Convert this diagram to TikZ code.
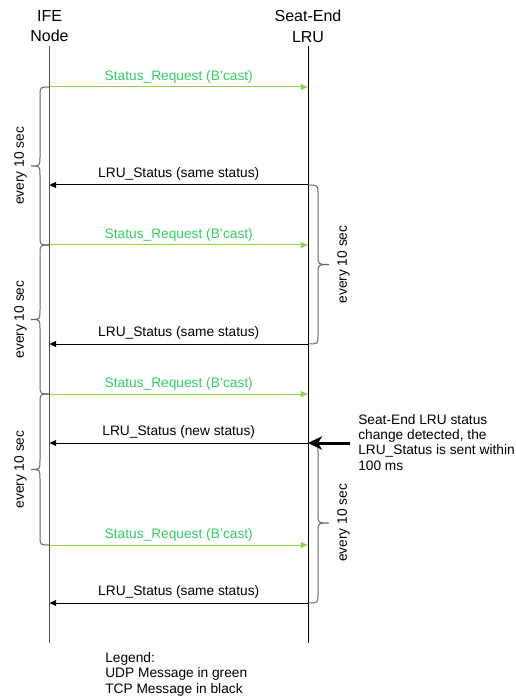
\documentclass[tikz,border=0pt]{standalone}
\usepackage{fontspec}
\setmainfont{Liberation Sans}
\usetikzlibrary{arrows.meta}

\definecolor{udpline}{RGB}{140,214,80}
\definecolor{udptext}{RGB}{51,204,102}
\definecolor{bracegray}{RGB}{100,100,100}
\definecolor{ifegray}{RGB}{80,80,80}

% curly brace between a lifeline and its tip:
% #1 lifeline x, #2 straight part x, #3 tip x, #4 top y, #5 bottom y
\newcommand\curlybrace[5]{%
  \draw[brace] (#1,#4) .. controls (#2,#4) .. (#2,{#4+9})
    -- (#2,{(#4+#5)/2-9}) .. controls (#2,{(#4+#5)/2}) .. (#3,{(#4+#5)/2})
    .. controls (#2,{(#4+#5)/2}) .. (#2,{(#4+#5)/2+9})
    -- (#2,{#5-9}) .. controls (#2,#5) .. (#1,#5);}

\begin{document}
\begin{tikzpicture}[x=0.75pt,y=-0.75pt,
  every node/.style={font=\fontsize{10.3}{11.5}\selectfont, inner sep=0pt},
  header/.style={font=\fontsize{12}{15.5}\selectfont, align=center, anchor=north},
  lifeline/.style={line width=0.75pt},
  udp/.style={udpline, line width=0.75pt, -{Triangle[length=5.5pt,width=4.5pt]}},
  tcp/.style={black, line width=0.75pt, -{Triangle[length=5pt,width=4.5pt]}},
  udplbl/.style={midway, above=2.6pt, text=udptext},
  tcplbl/.style={midway, above=2.8pt, text=black},
  brace/.style={bracegray, line width=0.75pt},
  period/.style={rotate=90},
  note/.style={align=left, anchor=north west, font=\fontsize{10.3}{11.5}\selectfont},
  bigarrow/.style={black, line width=2.25pt, -{Stealth[length=10.5pt,width=10pt,inset=3pt]}}
]
\path[use as bounding box] (0,0) rectangle (516,698);

% participants
\node[header] (ife) at (49.5,10) {IFE\\Node};
\node[header] (lru) at (308,10) {Seat-End\\LRU};

% lifelines
\coordinate (ifeTop) at (49.5,46);
\coordinate (ifeBot) at (49.5,643);
\coordinate (lruTop) at (308,46);
\coordinate (lruBot) at (308,643);
\draw[lifeline, ifegray] (ifeTop) -- (ifeBot);
\draw[lifeline, black] (lruTop) -- (lruBot);

% message end points on both lifelines
\foreach \n/\y in {1/87, 2/185, 3/245, 4/344, 5/394, 6/443, 7/545, 8/603} {
  \coordinate (i\n) at (49.5,\y);
  \coordinate (s\n) at (308,\y);
}

% messages
\draw[udp] (i1) -- node[udplbl] {Status\_Request (B’cast)} (s1);
\draw[tcp] (s2) -- node[tcplbl] {LRU\_Status (same status)} (i2);
\draw[udp] (i3) -- node[udplbl] {Status\_Request (B’cast)} (s3);
\draw[tcp] (s4) -- node[tcplbl] {LRU\_Status (same status)} (i4);
\draw[udp] (i5) -- node[udplbl] {Status\_Request (B’cast)} (s5);
\draw[tcp] (s6) -- node[tcplbl] {LRU\_Status (new status)} (i6);
\draw[udp] (i7) -- node[udplbl] {Status\_Request (B’cast)} (s7);
\draw[tcp] (s8) -- node[tcplbl] {LRU\_Status (same status)} (i8);

% periods on the IFE side
\curlybrace{49.5}{40}{31}{87}{245}
\curlybrace{49.5}{40}{31}{245}{394}
\curlybrace{49.5}{40}{31}{394}{545}
\node[period] (p1) at (20.5,166) {every 10 sec};
\node[period] (p2) at (20.5,319.5) {every 10 sec};
\node[period] (p3) at (20.5,469.5) {every 10 sec};

% periods on the LRU side
\curlybrace{308}{318}{329}{185}{344}
\curlybrace{308}{318}{329}{443}{603}
\node[period] (p4) at (343.5,264.5) {every 10 sec};
\node[period] (p5) at (343.5,523) {every 10 sec};

% status change event
\coordinate (evStart) at (350,443);
\draw[bigarrow] (evStart) -- (s6);
\node[note] (ev) at (358,414) {Seat-End LRU status\\change detected, the\\LRU\_Status is sent within\\100 ms};

% legend
\node[note, font=\fontsize{10.3}{11.6}\selectfont] (legend) at (105,652) {Legend:\\UDP Message in green\\TCP Message in black};
\end{tikzpicture}
\end{document}
